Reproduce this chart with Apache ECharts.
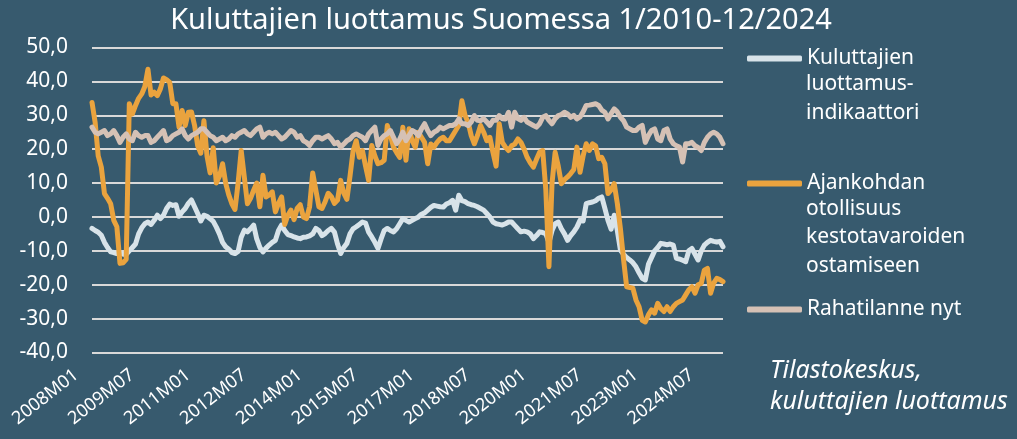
<!DOCTYPE html>
<html>
<head>
<meta charset="utf-8">
<title>Kuluttajien luottamus Suomessa</title>
<script src="https://cdn.jsdelivr.net/npm/echarts@6/dist/echarts.min.js"></script>
<style>
    html, body { margin: 0; padding: 0; background: #375a6e; }
    #chart { width: 1017px; height: 439px; }
</style>
</head>
<body>
<div id="chart"></div>
<script>
    'use strict';

    // kuukaudet 2008M01 - 2024M12
    var years = [2008, 2009, 2010, 2011, 2012, 2013, 2014, 2015, 2016, 2017, 2018, 2019, 2020, 2021, 2022, 2023, 2024];
    var months = ['01', '02', '03', '04', '05', '06', '07', '08', '09', '10', '11', '12'];

    var yTicks = [-40, -30, -20, -10, 0, 10, 20, 30, 40, 50];

    var seriesNames = [
        'Kuluttajien luottamus-indikaattori',
        'Ajankohdan otollisuus kestotavaroiden ostamiseen',
        'Rahatilanne nyt'
    ];

    var luottamus = [
        -3.4, -4, -4.5, -5.4, -7.5, -9, -10.3, -10.5, -10.8, -10.7, -11, -11,
        -10, -9, -8, -5, -3.2, -2, -1.5, -2.2, -1, 0.5, -0.5, 0.5,
        2.5, 3.8, 3.4, 3.6, 0.2, 1.5, 2.5, 4, 5, 3, 1, -1.2,
        0.5, 0.2, -0.5, -1.3, -3, -5, -7.5, -8.8, -9.5, -10.5, -10.8, -10.2,
        -6, -3.9, -4.4, -3.5, -2.4, -6.5, -9, -10.3, -9.2, -8.3, -7.5, -6.9,
        -4, -2.4, -4, -5.2, -5.5, -5.9, -6.2, -6.4, -6, -5.9, -5.6, -5,
        -3.4, -4, -5.5, -4.9, -4, -3.4, -4.5, -8, -10.8, -9, -7.8, -5,
        -3.5, -2.9, -2.2, -1.5, -1.8, -4.5, -5.9, -7.5, -9.3, -6.5, -4, -3.4,
        -4, -4.4, -3.5, -2, -0.5, -1, -1.5, -1, -0.5, 0, 0.8, 1.2,
        2, 2.8, 3.4, 3.2, 3, 2.9, 3.8, 4.2, 4.9, 2, 6.4, 4.8,
        4.5, 3.9, 3.6, 3.4, 3, 2.5, 2, 1, 0, -1.5, -2, -2.2,
        -2.4, -2, -1.5, -1.5, -2.5, -3.5, -4.4, -4.2, -4.4, -5, -6.4, -5.5,
        -4.4, -4.6, -4.9, -7.5, -4, -2, -1.5, -3.5, -5, -6.9, -5.5, -4.4,
        -3, -1, -1.2, 3.9, 4.2, 4.4, 4.8, 5.5, 5.9, 2.5, -1, -3.6,
        0.5, -4, -9.8, -11, -12, -12.7, -13.5, -14.7, -16.5, -18.1, -18.6, -14,
        -12, -10, -9, -7.8, -8, -8.2, -8, -8.3, -12.2, -12.4, -12.8, -13.2,
        -10, -9.3, -11, -12.7, -10, -8.3, -7.5, -6.9, -7.2, -7.4, -7.2, -8.8
    ];

    var kestotavarat = [
        33.8, 28, 18, 14.7, 6.9, 5.5, 3.9, -1, -2.9, -13.7, -13.5, -12.5,
        33.4, 30.4, 32.9, 35, 36.3, 38.5, 43.6, 36, 36.8, 35.8, 37.8, 41,
        40.5, 39.7, 33.4, 33.4, 26.5, 31.4, 27, 30.9, 31, 27, 21, 18.8,
        28.4, 18, 13, 20.4, 10, 12, 15.7, 10, 6.5, 3.9, 2.2, 10,
        19.6, 11.8, 3.9, 5.5, 7.9, 10, 3, 12.3, 5.9, 6.5, 7.4, 1.5,
        4, 5.9, -2.2, 0.5, 2, -0.8, 2.5, 3.6, 0, -0.5, 3, 13,
        8, 3, 2.5, 4.5, 7, 6, 4, 5, 10.8, 7, 5.2, 12,
        19.5, 22.5, 17.6, 19.6, 15, 10.8, 21.1, 18, 15.7, 16, 16.7, 27,
        24, 20.6, 19, 17.6, 26.5, 16.7, 26, 22.5, 20.6, 25, 23.5, 22,
        15.7, 21.5, 20.6, 22, 23, 23.5, 22.5, 22.5, 24, 25.5, 27, 34.3,
        30, 27.9, 24, 21.6, 24, 27, 25, 22.5, 23.5, 19, 15, 27.5,
        22, 20.6, 19.6, 21, 21.5, 23, 22, 20, 17.6, 16, 14.7, 17,
        19.1, 19.6, 8, -14.7, 10, 19.1, 15, 9.8, 11, 11.8, 12.8, 14,
        20.6, 13.2, 18, 21.6, 19.6, 21.6, 21, 17.2, 17.6, 15.7, 6.9, 8,
        9.8, 4, -3.5, -12.5, -20.6, -20.8, -21, -24.5, -26.5, -30.5, -31, -28.9,
        -27.4, -28.4, -25.5, -27, -27.9, -26.5, -27.9, -26.5, -25.5, -25, -24.5, -23,
        -21.5, -20.6, -22.5, -20, -19.6, -15.7, -15.2, -22.5, -19.5, -18.1, -18.5, -19.1
    ];

    var rahatilanne = [
        26.5, 25, 24.5, 25, 25.5, 24, 24.5, 25.5, 24, 22, 23.5, 24.5,
        23, 22.5, 25, 24, 23.5, 24, 24, 22, 22.5, 23.5, 24.5, 25.5,
        22.5, 23, 24, 24.5, 25, 26, 24, 23, 24, 24.5, 25, 26,
        26, 25, 24, 23.5, 22.5, 23, 23.5, 22.5, 23, 24, 23.5, 24.5,
        25, 25.5, 24.5, 24, 25, 26, 26.5, 23.5, 24.5, 25, 24.5, 25,
        24, 23, 23.5, 24.5, 25.5, 25, 23.5, 24, 22.5, 22, 21.1, 22.5,
        23.5, 23.5, 23, 23.5, 24, 23, 21.6, 22, 20.6, 21.5, 22.5, 23,
        24, 24.5, 24, 23.5, 22.5, 24.5, 25.5, 26.5, 21.1, 23, 24, 24.5,
        25.5, 23.5, 21.6, 23, 25, 22.5, 24, 25.5, 25, 24, 26, 27.5,
        25.5, 24, 25, 25.5, 26.5, 26, 26.5, 27, 27, 27.5, 28.9, 27.5,
        27.5, 27, 28, 29.9, 28.5, 28.4, 29, 28, 27, 28.5, 28.5, 29.9,
        29, 28.9, 30.9, 26.5, 30.9, 29, 28.5, 29.4, 28, 27.5, 27, 26.5,
        27.5, 29.4, 29.9, 28.5, 27.5, 29, 29.9, 30.2, 30.9, 30.4, 29.4, 30,
        28.9, 29.5, 31, 32.9, 33, 33.2, 33.4, 32.9, 31.5, 30.9, 28.9, 30.5,
        31.9, 31, 29.4, 28.4, 26.5, 26, 25.5, 25.5, 26.5, 27, 22, 24,
        25.5, 26, 23, 22.5, 25.5, 26, 23, 21.6, 21, 20.6, 16.2, 21.6,
        21.6, 22, 21, 20.5, 19.6, 22, 23.5, 24.5, 25, 24.5, 23.5, 21.6
    ];

    var categories = [];
    years.forEach(function(y) {
        months.forEach(function(m) {
            categories.push(y + 'M' + m);
        });
    });

    var colors = ['#d8e3e9', '#eaa33e', '#d5c1b5'];
    var font = '"Noto Sans", sans-serif';
    var textColor = '#ffffff';

    var chart = echarts.init(document.getElementById('chart'));

    function legendAt(idx, firstLine, top) {
        return {
            data: [seriesNames[idx]],
            left: 747,
            top: top,
            padding: 0,
            icon: 'roundRect',
            itemWidth: 55,
            itemHeight: 6,
            selectedMode: false,
            formatter: function() { return firstLine; },
            textStyle: { color: textColor, fontSize: 21, fontFamily: font, lineHeight: 29 }
        };
    }

    function label(text, x, y, size, italic) {
        return {
            type: 'text',
            left: x,
            top: y,
            style: {
                text: text,
                fill: textColor,
                font: (italic ? 'italic ' : '') + size + 'px ' + font
            }
        };
    }

    var option = {
        backgroundColor: '#375a6e',
        animation: false,
        title: {
            text: 'Kuluttajien luottamus Suomessa 1/2010-12/2024',
            left: 496,
            textAlign: 'center',
            top: 1,
            textStyle: { color: textColor, fontSize: 29, fontWeight: 'normal', fontFamily: font }
        },
        legend: [
            legendAt(0, 'Kuluttajien', 44),
            legendAt(1, 'Ajankohdan', 169),
            legendAt(2, 'Rahatilanne nyt', 295)
        ],
        graphic: [
            label('luottamus-', 806, 74, 21),
            label('indikaattori', 806, 103, 21),
            label('otollisuus', 806, 199, 21),
            label('kestotavaroiden', 806, 227, 21),
            label('ostamiseen', 806, 256, 21),
            label('Tilastokeskus,', 770, 358, 25, true),
            label('kuluttajien luottamus', 770, 389, 25, true)
        ],
        grid: {
            left: 92,
            right: 294,
            top: 47.5,
            bottom: 86.5
        },
        xAxis: {
            type: 'category',
            boundaryGap: false,
            data: categories,
            axisLine: { show: false },
            axisTick: { show: false },
            splitLine: { show: false },
            axisLabel: {
                interval: 17,
                rotate: 38,
                margin: 8,
                padding: [0, 20, 0, 0],
                color: textColor,
                fontSize: 18,
                fontFamily: font
            }
        },
        yAxis: {
            type: 'value',
            min: yTicks[0],
            max: yTicks[yTicks.length - 1],
            interval: 10,
            axisLine: { show: false },
            axisTick: { show: false },
            axisLabel: {
                margin: 24,
                color: textColor,
                fontSize: 21,
                fontFamily: font,
                formatter: function(v) { return v.toFixed(1).replace('.', ','); }
            },
            splitLine: { lineStyle: { color: '#d9d9d9', width: 2 } }
        },
        series: [luottamus, kestotavarat, rahatilanne].map(function(d, i) {
            return {
                name: seriesNames[i],
                type: 'line',
                data: d,
                showSymbol: false,
                symbol: 'none',
                color: colors[i],
                lineStyle: { width: 5, color: colors[i], cap: 'round', join: 'round' }
            };
        })
    };

    chart.setOption(option);
</script>
</body>
</html>
